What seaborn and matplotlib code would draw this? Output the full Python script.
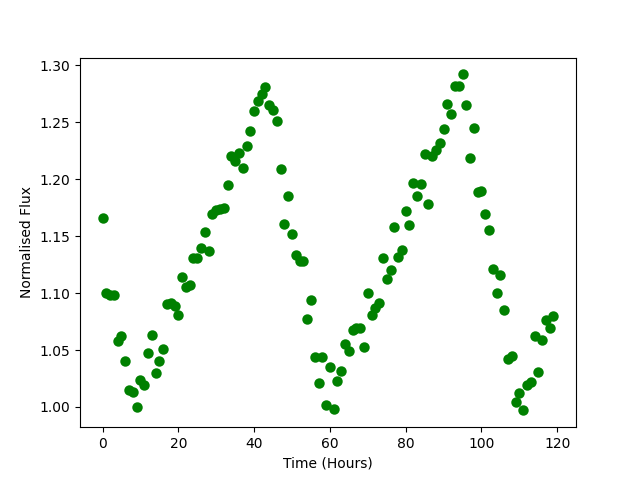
import numpy as np
import pandas as pd
import seaborn as sns
import matplotlib
matplotlib.use("Agg")
import matplotlib.pyplot as plt

# time stamps (hours) and normalised flux
hours = list(range(120))
flux = [
    1.166, 1.100, 1.098, 1.098, 1.058, 1.062, 1.040, 1.015, 1.013, 1.000,
    1.024, 1.019, 1.047, 1.063, 1.030, 1.040, 1.051, 1.090, 1.091, 1.089,
    1.081, 1.114, 1.105, 1.107, 1.131, 1.131, 1.140, 1.154, 1.137, 1.169,
    1.173, 1.174, 1.175, 1.195, 1.220, 1.216, 1.223, 1.210, 1.229, 1.242,
    1.260, 1.269, 1.275, 1.281, 1.265, 1.261, 1.251, 1.209, 1.161, 1.185,
    1.152, 1.133, 1.128, 1.128, 1.077, 1.094, 1.044, 1.021, 1.044, 1.002,
    1.035, 0.998, 1.023, 1.032, 1.055, 1.049, 1.068, 1.069, 1.069, 1.053,
    1.100, 1.081, 1.087, 1.091, 1.131, 1.112, 1.120, 1.158, 1.132, 1.138,
    1.172, 1.160, 1.197, 1.185, 1.196, 1.222, 1.178, 1.220, 1.226, 1.232,
    1.244, 1.266, 1.257, 1.282, 1.282, 1.292, 1.265, 1.219, 1.245, 1.189,
    1.190, 1.169, 1.155, 1.121, 1.100, 1.116, 1.085, 1.042, 1.045, 1.004,
    1.012, 0.997, 1.019, 1.022, 1.062, 1.031, 1.059, 1.076, 1.069, 1.080,
]

df = pd.DataFrame({"time": hours, "flux": flux})

fig, ax = plt.subplots(figsize=(6.4, 4.8), dpi=100)
sns.scatterplot(data=df, x="time", y="flux", color="green",
                edgecolor="green", s=36, linewidth=1.5, ax=ax)
ax.set_xlabel("Time (Hours)")
ax.set_ylabel("Normalised Flux")
fig.savefig("out.png")
